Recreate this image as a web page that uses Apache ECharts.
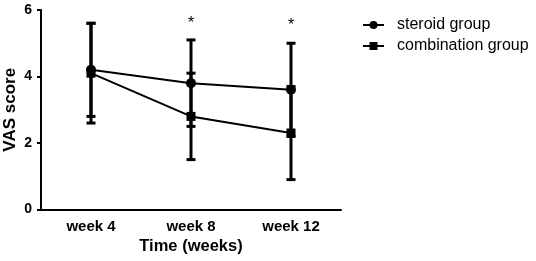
<!DOCTYPE html>
<html>
<head>
<meta charset="utf-8">
<script src="https://cdn.jsdelivr.net/npm/echarts@6/dist/echarts.min.js"></script>
<style>html,body{margin:0;padding:0;background:#fff;}#c{width:536px;height:261px;}</style>
</head>
<body>
<div id="c"></div>
<script>
var categories = ['week 4', 'week 8', 'week 12'];
var steroidMean = [4.2, 3.8, 3.6];
var steroidSD = [1.4, 1.3, 1.4];
var comboMean = [4.1, 2.8, 2.3];
var comboSD = [1.5, 1.3, 1.4];
var significance = ['', '*', '*'];
var starY = [0, 5.7, 5.64];
var yTicks = [0, 2, 4, 6];

var FONT = '"Liberation Sans", Arial, Helvetica, sans-serif';

function errData(mean, sd) {
  return mean.map(function (m, i) { return [i, m - sd[i], m + sd[i]]; });
}

function renderErr(params, api) {
  var x = api.value(0);
  var lo = api.coord([x, api.value(1)]);
  var hi = api.coord([x, api.value(2)]);
  var hw = 4.5;
  var st = { stroke: '#000', lineWidth: 3 };
  return {
    type: 'group',
    children: [
      { type: 'line', shape: { x1: lo[0], y1: lo[1], x2: hi[0], y2: hi[1] }, style: st },
      { type: 'line', shape: { x1: hi[0] - hw, y1: hi[1], x2: hi[0] + hw, y2: hi[1] }, style: st },
      { type: 'line', shape: { x1: lo[0] - hw, y1: lo[1], x2: lo[0] + hw, y2: lo[1] }, style: st }
    ]
  };
}

var chart = echarts.init(document.getElementById('c'), null, { renderer: 'canvas' });
chart.setOption({
  animation: false,
  backgroundColor: '#fff',
  textStyle: { fontFamily: FONT },
  grid: { left: 41, right: 195, top: 10, bottom: 51.5, containLabel: false, outerBoundsMode: 'none' },
  legend: {
    left: 362, top: 17, orient: 'vertical', padding: 0,
    itemWidth: 21, itemHeight: 10, itemGap: 5,
    data: ['steroid group', 'combination group'],
    textStyle: { fontFamily: FONT, fontSize: 16, color: '#000', padding: [0, 0, 0, 8] }
  },
  xAxis: {
    type: 'category', data: categories, boundaryGap: true,
    name: 'Time (weeks)', nameLocation: 'middle', nameGap: 28, nameMoveOverlap: false,
    nameTextStyle: { fontFamily: FONT, fontSize: 16.5, fontWeight: 'bold', color: '#000' },
    axisLine: { lineStyle: { color: '#000', width: 2 } },
    axisTick: { alignWithLabel: true, length: 4, lineStyle: { color: '#000', width: 2 } },
    axisLabel: { fontFamily: FONT, fontSize: 15, fontWeight: 'bold', color: '#000', margin: 10 },
    splitLine: { show: false }
  },
  yAxis: {
    type: 'value', min: yTicks[0], max: yTicks[yTicks.length - 1], interval: 2,
    name: 'VAS score', nameLocation: 'middle', nameGap: 22, nameMoveOverlap: false,
    nameTextStyle: { fontFamily: FONT, fontSize: 17, fontWeight: 'bold', color: '#000' },
    axisLine: { show: true, lineStyle: { color: '#000', width: 2 } },
    axisTick: { show: true, length: 4, lineStyle: { color: '#000', width: 2 } },
    axisLabel: { fontFamily: FONT, fontSize: 14, fontWeight: 'bold', color: '#000', margin: 9 },
    splitLine: { show: false }
  },
  series: [
    { type: 'custom', name: 'errS', renderItem: renderErr, data: errData(steroidMean, steroidSD), z: 2, silent: true },
    { type: 'custom', name: 'errC', renderItem: renderErr, data: errData(comboMean, comboSD), z: 2, silent: true },
    {
      type: 'line', name: 'steroid group', data: steroidMean, z: 3,
      symbol: 'circle', symbolSize: 10,
      lineStyle: { color: '#000', width: 2 }, itemStyle: { color: '#000' }
    },
    {
      type: 'line', name: 'combination group', data: comboMean, z: 3,
      symbol: 'rect', symbolSize: 9,
      lineStyle: { color: '#000', width: 2 }, itemStyle: { color: '#000' }
    },
    {
      type: 'custom', name: 'sig', silent: true, z: 4,
      data: significance.map(function (s, i) { return [i, starY[i], s]; }),
      renderItem: function (params, api) {
        var s = significance[params.dataIndex];
        if (!s) return null;
        var p = api.coord([api.value(0), api.value(1)]);
        return {
          type: 'text',
          style: { text: s, x: p[0], y: p[1] + 4, align: 'center', verticalAlign: 'middle',
                   fontFamily: FONT, fontSize: 16, fill: '#000' }
        };
      }
    }
  ]
});
</script>
</body>
</html>
